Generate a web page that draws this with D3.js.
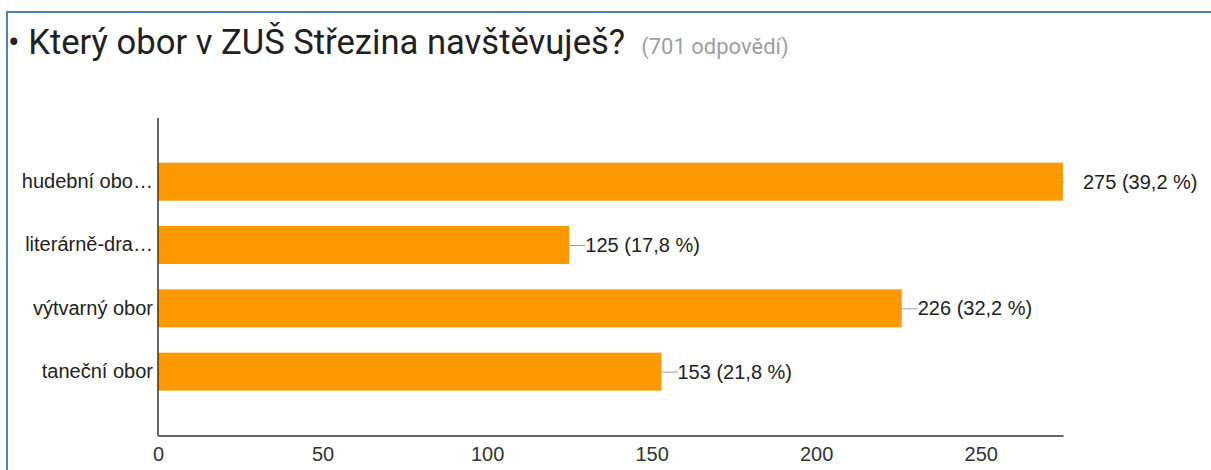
<!DOCTYPE html>
<html><head><meta charset="utf-8">
<script src="https://cdn.jsdelivr.net/npm/d3@7"></script>
<style>body{margin:0;background:#fff;}svg{display:block;}</style>
</head><body>
<script>
const categories = ["hudební obo…", "literárně-dra…", "výtvarný obor", "taneční obor"];
const values = [275, 125, 226, 153];
const percents = ["39,2", "17,8", "32,2", "21,8"];
const tickValues = [0, 50, 100, 150, 200, 250];
const title = "Který obor v ZUŠ Střezina navštěvuješ?";
const subtitle = "(701 odpovědí)";

const W = 1211, H = 470;
const svg = d3.select("body").append("svg").attr("width", W).attr("height", H);

// frame
svg.append("rect").attr("x", 7).attr("y", 12).attr("width", W + 10).attr("height", H + 10)
  .attr("fill", "none").attr("stroke", "#4f81bd").attr("stroke-width", 2);

// title
const t = svg.append("text").attr("x", 8).attr("y", 54)
  .style("font-family", "Roboto").style("fill", "#212121");
t.append("tspan").style("font-size", "34.6px").text("• " + title);
t.append("tspan").attr("dx", 16).style("font-size", "22px").style("fill", "#9e9e9e").text(subtitle);

const x = d3.scaleLinear().domain([0, 275]).range([158, 1063]);
const y = d3.scaleBand().domain(categories).range([150, 403.3]).paddingInner(0.4).paddingOuter(0.2);

const fontFam = "'Liberation Sans', Arial, sans-serif";
const fs = "20px";

// bars
svg.append("g").selectAll("rect").data(values).join("rect")
  .attr("x", x(0)).attr("y", (d, i) => y(categories[i]))
  .attr("width", d => x(d) - x(0)).attr("height", y.bandwidth())
  .attr("fill", "#ff9900");

// leader lines (clipped to plot area)
svg.append("clipPath").attr("id", "plotclip").append("rect")
  .attr("x", 158).attr("y", 100).attr("width", 1064 - 158).attr("height", 340);
svg.append("g").attr("clip-path", "url(#plotclip)").selectAll("line").data(values).join("line")
  .attr("x1", d => x(d)).attr("x2", d => x(d) + 16)
  .attr("y1", (d, i) => y(categories[i]) + y.bandwidth() / 2 + 0.5)
  .attr("y2", (d, i) => y(categories[i]) + y.bandwidth() / 2 + 0.5)
  .attr("stroke", "#999").attr("stroke-width", 1);

// value labels
svg.append("g").selectAll("text").data(values).join("text")
  .attr("x", d => d === 275 ? x(d) + 20 : x(d) + 16)
  .attr("y", (d, i) => y(categories[i]) + y.bandwidth() / 2)
  .attr("dy", "0.35em")
  .style("font-family", fontFam).style("font-size", fs).style("fill", "#222")
  .text((d, i) => `${d} (${percents[i]} %)`);

// axes
const xAxis = svg.append("g").attr("transform", "translate(0,435.5)")
  .call(d3.axisBottom(x).tickValues(tickValues).tickSize(0).tickPadding(11));
xAxis.select(".domain").attr("stroke", "#333").attr("stroke-width", 1.5);
xAxis.selectAll("text").style("font-family", fontFam).style("font-size", fs).style("fill", "#333");

const yAxis = svg.append("g").attr("transform", "translate(158,0)")
  .call(d3.axisLeft(y).tickSize(0).tickPadding(5));
yAxis.select(".domain").remove();
yAxis.selectAll("text").style("font-family", fontFam).style("font-size", fs).style("fill", "#222");
svg.append("line").attr("x1", 158).attr("x2", 158).attr("y1", 118).attr("y2", 436)
  .attr("stroke", "#333").attr("stroke-width", 1.5);
</script>
</body></html>
